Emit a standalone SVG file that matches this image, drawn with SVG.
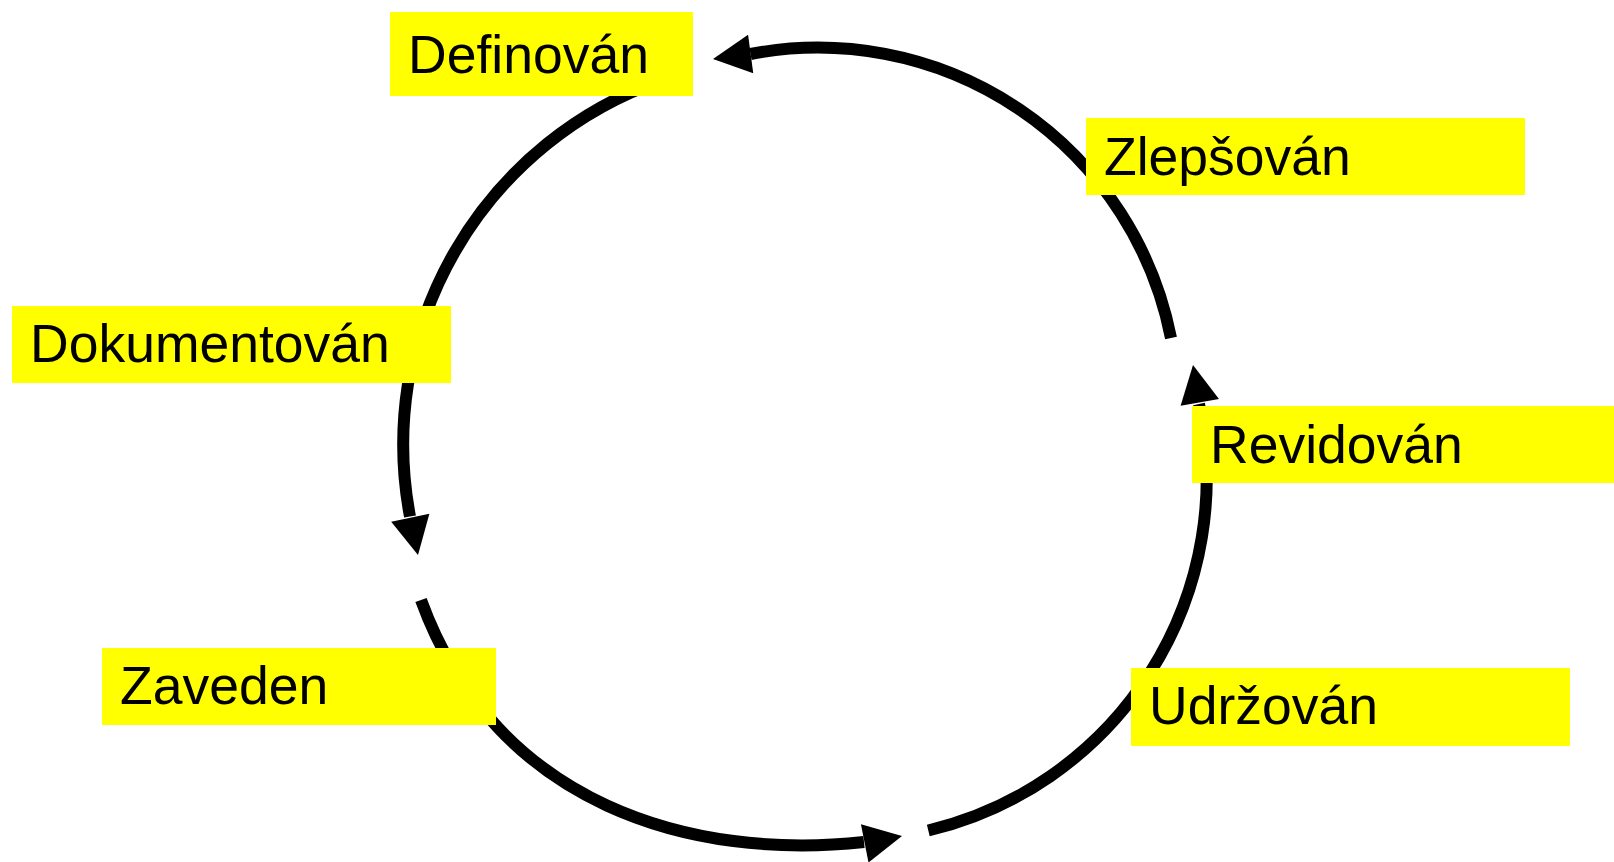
<svg xmlns="http://www.w3.org/2000/svg" xmlns:xlink="http://www.w3.org/1999/xlink" width="1614" height="862" viewBox="0 0 1614 862">
  <style>
    .box { fill: #FFFF00; stroke: none; }
    .lbl { font-family: "Liberation Sans", Arial, sans-serif; font-size: 53.5px; fill: #000000; }
    .arc { fill: none; stroke: #000000; stroke-width: 12; stroke-linecap: butt; }
    .head { fill: #000000; stroke: none; }
  </style>
  <defs>
    <path id="ah" class="head" d="M0,0 L-38,-19.5 L-38,19.5 Z"/>
  </defs>
  <rect x="0" y="0" width="1614" height="862" fill="#FFFFFF"/>
  <g id="connectors">
    <path class="arc" d="M1171,338 A360,360 0 0 0 750.5,54"/>
    <use xlink:href="#ah" transform="translate(713,59) rotate(172.4)"/>
    <path class="arc" d="M662,80 A386,386 0 0 0 410,516.5"/>
    <use xlink:href="#ah" transform="translate(418,555) rotate(78.3)"/>
    <path class="arc" d="M421,600 C496.2,806.8 693.7,860.4 864,842"/>
    <use xlink:href="#ah" transform="translate(902,836) rotate(-11.2)"/>
    <path class="arc" d="M928.3,830.5 A362,362 0 0 0 1199,404"/>
    <use xlink:href="#ah" transform="translate(1193,365) rotate(-100.3)"/>
  </g>
  <g id="node-definovan">
    <rect class="box" x="390" y="12" width="303" height="84"/>
    <text class="lbl" x="408" y="73">Definován</text>
  </g>
  <g id="node-zlepsovan">
    <rect class="box" x="1086" y="118" width="439" height="77"/>
    <text class="lbl" x="1104" y="175">Zlepšován</text>
  </g>
  <g id="node-revidovan">
    <rect class="box" x="1192" y="406" width="422" height="77"/>
    <text class="lbl" x="1210" y="463">Revidován</text>
  </g>
  <g id="node-dokumentovan">
    <rect class="box" x="12" y="306" width="439" height="77"/>
    <text class="lbl" x="30" y="362">Dokumentován</text>
  </g>
  <g id="node-zaveden">
    <rect class="box" x="102" y="648" width="394" height="77"/>
    <text class="lbl" x="120" y="704">Zaveden</text>
  </g>
  <g id="node-udrzovan">
    <rect class="box" x="1131" y="668" width="439" height="78"/>
    <text class="lbl" x="1149" y="724">Udržován</text>
  </g>
</svg>
